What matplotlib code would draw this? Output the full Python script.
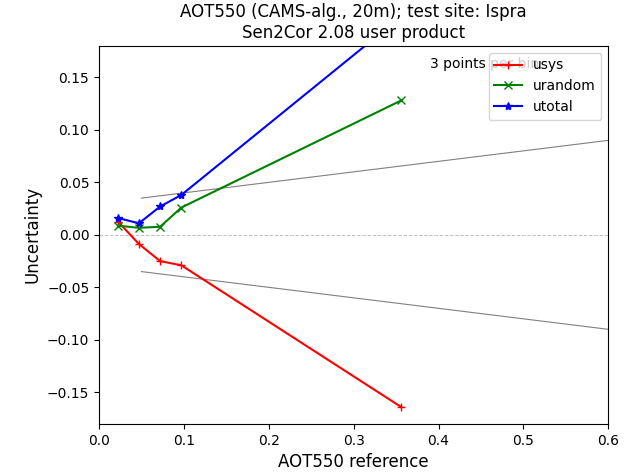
import matplotlib
matplotlib.use('Agg')
import matplotlib.pyplot as plt
import numpy as np

# bin centres (AOT550 reference)
aot = [0.0225, 0.047, 0.072, 0.097, 0.356]
usys = [0.0125, -0.0087, -0.025, -0.029, -0.164]
urandom = [0.0087, 0.0067, 0.0077, 0.026, 0.128]
utotal = [0.016, 0.011, 0.027, 0.038, 0.208]

# requirement envelope: 0.03 + 0.1*AOT
req_x = [0.05, 0.6]
req_y = [0.035, 0.09]

fig = plt.figure(figsize=(6.43, 4.73), dpi=100)
ax = fig.add_axes([0.154, 0.104, 0.792, 0.799])

ax.plot(req_x, req_y, color='gray', lw=0.8)
ax.plot(req_x, [-v for v in req_y], color='gray', lw=0.8)
ax.axhline(0, color='silver', ls='--', lw=0.7)

ax.plot(aot, usys, 'r-+', label='usys')
ax.plot(aot, urandom, 'g-x', label='urandom')
ax.plot(aot, utotal, 'b-*', label='utotal')

ax.text(0.65, 0.97, '3 points per bin', transform=ax.transAxes,
        ha='left', va='top')
ax.legend(loc='upper right')

ax.set_xlim(0, 0.6)
ax.set_ylim(-0.18, 0.18)
ax.set_xlabel('AOT550 reference', fontsize=12)
ax.set_ylabel('Uncertainty', fontsize=12)
ax.set_title('AOT550 (CAMS-alg., 20m); test site: Ispra\nSen2Cor 2.08 user product')

fig.savefig('out.png', dpi=100)
